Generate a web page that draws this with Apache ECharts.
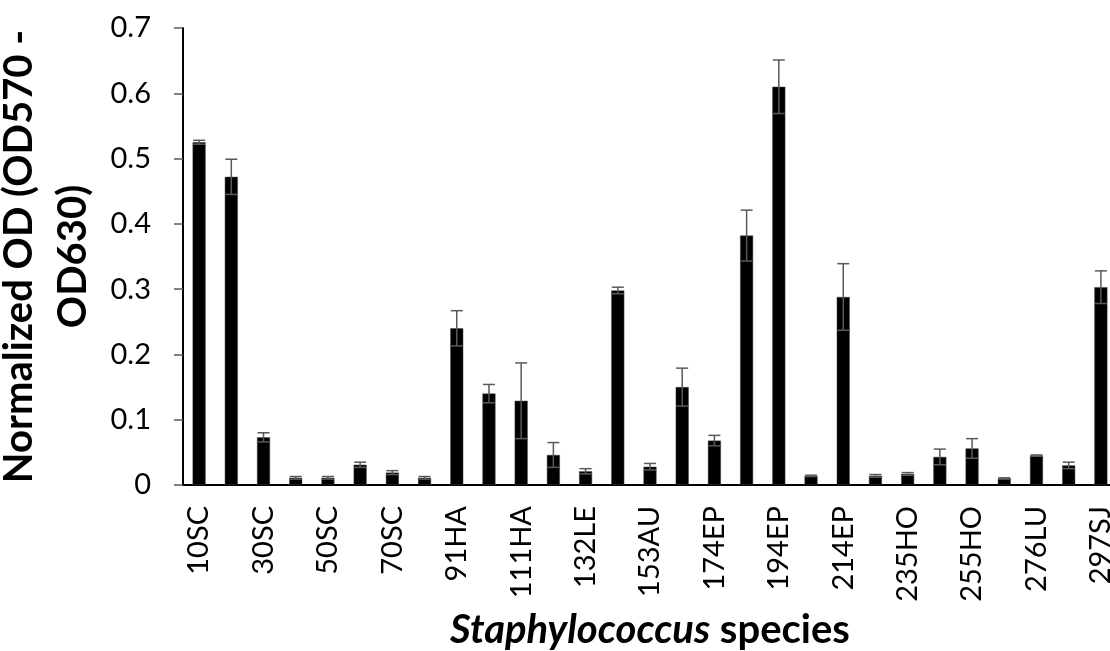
<html lang="en">
<head>
    <meta charset="UTF-8">
    <title>Staphylococcus</title>
    <script type="text/javascript" src="https://cdn.jsdelivr.net/npm/echarts@6/dist/echarts.min.js"></script>
    <style>
        body { margin: 0; background: #fff; }
        #chart { width: 1110px; height: 651px; }
    </style>
</head>
<body>
<div id="chart"></div>
<script>
    // strains, every other label is shown on the axis
    var strains = ['10SC', '20SC', '30SC', '40SC', '50SC', '60SC', '70SC', '80SC', '91HA', '101HA',
        '111HA', '122HA', '132LE', '142LE', '153AU', '163AU', '174EP', '184EP', '194EP', '204EP',
        '214EP', '225EP', '235HO', '245HO', '255HO', '266HO', '276LU', '286LU', '297SJ'];
    var meanOD = [0.525, 0.472, 0.073, 0.011, 0.011, 0.031, 0.019, 0.011, 0.240, 0.140,
        0.129, 0.046, 0.021, 0.298, 0.028, 0.150, 0.068, 0.382, 0.610, 0.014,
        0.288, 0.014, 0.017, 0.043, 0.056, 0.010, 0.045, 0.030, 0.303];
    var errOD = [0.003, 0.027, 0.007, 0.002, 0.002, 0.004, 0.003, 0.002, 0.027, 0.014,
        0.058, 0.019, 0.004, 0.005, 0.005, 0.029, 0.008, 0.039, 0.041, 0.001,
        0.051, 0.002, 0.002, 0.012, 0.015, 0.001, 0.001, 0.005, 0.025];
    var yTicks = [0, 0.1, 0.2, 0.3, 0.4, 0.5, 0.6, 0.7];

    var font = 'Lato';
    var errData = meanOD.map(function (v, i) {
        return [i, v - errOD[i], v + errOD[i]];
    });

    var mychart = echarts.init(document.getElementById('chart'));
    var option = {
        animation: false,
        backgroundColor: '#fff',
        grid: { left: 183, right: -7, top: 28, bottom: 166, outerBoundsMode: 'none' },
        xAxis: {
            type: 'category',
            data: strains,
            axisLine: { lineStyle: { color: '#000', width: 2 } },
            axisTick: { show: false },
            axisLabel: {
                interval: 1,
                rotate: 90,
                margin: 21,
                color: '#000',
                fontFamily: font,
                fontSize: 29
            },
            name: '{i|Staphylococcus}{b| species}',
            nameLocation: 'middle',
            nameGap: 124,
            nameTextStyle: {
                rich: {
                    i: { fontFamily: font, fontSize: 40, fontWeight: 'bold', fontStyle: 'italic', color: '#000' },
                    b: { fontFamily: font, fontSize: 40, fontWeight: 'bold', color: '#000' }
                }
            }
        },
        yAxis: {
            type: 'value',
            min: 0,
            max: 0.7,
            interval: 0.1,
            splitLine: { show: false },
            axisLine: { show: true, lineStyle: { color: '#000', width: 2 } },
            axisTick: { show: true, length: 9, lineStyle: { color: '#595959', width: 1.5 } },
            axisLabel: {
                margin: 32,
                color: '#000',
                fontFamily: font,
                fontSize: 29,
                formatter: function (v) {
                    var idx = Math.round(v * 10);
                    return yTicks[idx] === 0 ? '0' : yTicks[idx].toFixed(1);
                }
            },
            name: 'Normalized OD (OD570 -\nOD630)',
            nameLocation: 'middle',
            nameGap: 70,
            nameTextStyle: {
                fontFamily: font,
                fontSize: 40,
                fontWeight: 'bold',
                color: '#000',
                lineHeight: 54
            }
        },
        series: [
            {
                type: 'bar',
                data: meanOD,
                barWidth: 13,
                itemStyle: { color: '#000', borderColor: '#404040', borderWidth: 0.5 }
            },
            {
                type: 'custom',
                data: errData,
                z: 10,
                renderItem: function (params, api) {
                    var x = api.value(0);
                    var lo = api.coord([x, api.value(1)]);
                    var hi = api.coord([x, api.value(2)]);
                    var half = 6;
                    var style = { stroke: '#595959', lineWidth: 1.5 };
                    return {
                        type: 'group',
                        children: [
                            { type: 'line', shape: { x1: lo[0], y1: lo[1], x2: hi[0], y2: hi[1] }, style: style },
                            { type: 'line', shape: { x1: lo[0] - half, y1: lo[1], x2: lo[0] + half, y2: lo[1] }, style: style },
                            { type: 'line', shape: { x1: hi[0] - half, y1: hi[1], x2: hi[0] + half, y2: hi[1] }, style: style }
                        ]
                    };
                }
            }
        ]
    };
    mychart.setOption(option);
</script>
</body>
</html>
